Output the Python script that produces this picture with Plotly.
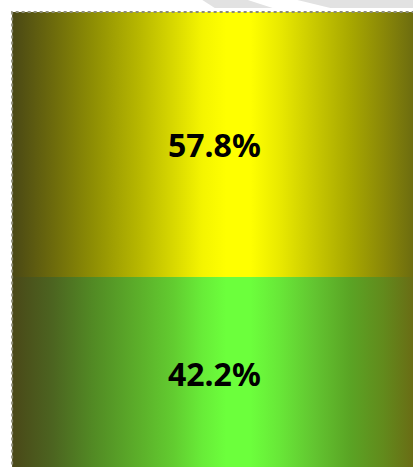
import plotly.graph_objects as go

categories = ["Yes", "No"]
values = [42.2, 57.8]          # bottom (green) first, then top (yellow)
labels = ["42.2%", "57.8%"]
scales = [
    [[0.0, "#4a4818"], [0.1, "#4c6420"], [0.2, "#528a24"], [0.317, "#5cb02a"],
     [0.4, "#62cc30"], [0.47, "#68ec38"], [0.53, "#6cff3c"], [0.59, "#6cff3c"],
     [0.66, "#68e838"], [0.75, "#62c430"], [0.837, "#5aa424"], [0.92, "#628a1c"],
     [1.0, "#6a6a14"]],
    [[0.0, "#4a4815"], [0.1, "#6c6a0c"], [0.2, "#8e8e04"], [0.317, "#b8b800"],
     [0.4, "#d8d800"], [0.47, "#f4f400"], [0.53, "#ffff00"], [0.59, "#ffff00"],
     [0.66, "#eaea00"], [0.75, "#c8c800"], [0.837, "#a8a800"], [0.92, "#8a8808"],
     [1.0, "#6a6a10"]],
]

fig = go.Figure()
base = 0.0
x0, x1 = -0.5, 0.5
for cat, v, lab, cs in zip(categories, values, labels, scales):
    top = base + v
    fig.add_trace(go.Scatter(
        x=[x0, x1, x1, x0, x0], y=[base, base, top, top, base],
        mode="lines", fill="toself", line=dict(width=0),
        fillgradient=dict(type="horizontal", colorscale=cs),
        hoverinfo="skip", showlegend=False, name=cat))
    fig.add_annotation(x=0, y=base + v / 2, text=f"<b>{lab}</b>", showarrow=False,
                       font=dict(family="Noto Sans", size=32, color="#000000"))
    base = top

# dotted outer border (left + top)
fig.add_trace(go.Scatter(x=[x0, x0, x1], y=[0, base, base], mode="lines",
                         line=dict(color="#8c8c78", width=2, dash="dot"),
                         hoverinfo="skip", showlegend=False))

# faint watermark stripes at the top
fig.add_shape(type="path", xref="paper", yref="paper",
              path="M 0.49 1 L 0.60 1 L 0.66 0.983 L 0.52 0.983 Z",
              fillcolor="#e2e2e2", line=dict(width=0), layer="below")
fig.add_shape(type="path", xref="paper", yref="paper",
              path="M 0.72 1 L 1 1 L 1 0.983 L 0.80 0.983 Z",
              fillcolor="#e2e2e2", line=dict(width=0), layer="below")

fig.update_layout(
    width=413, height=467, margin=dict(l=0, r=0, t=0, b=0),
    paper_bgcolor="white", plot_bgcolor="white",
    xaxis=dict(range=[-0.53, 0.4925], visible=False, fixedrange=True),
    yaxis=dict(range=[0.76, 102.62], visible=False, fixedrange=True),
)
fig.write_html("out.html")
